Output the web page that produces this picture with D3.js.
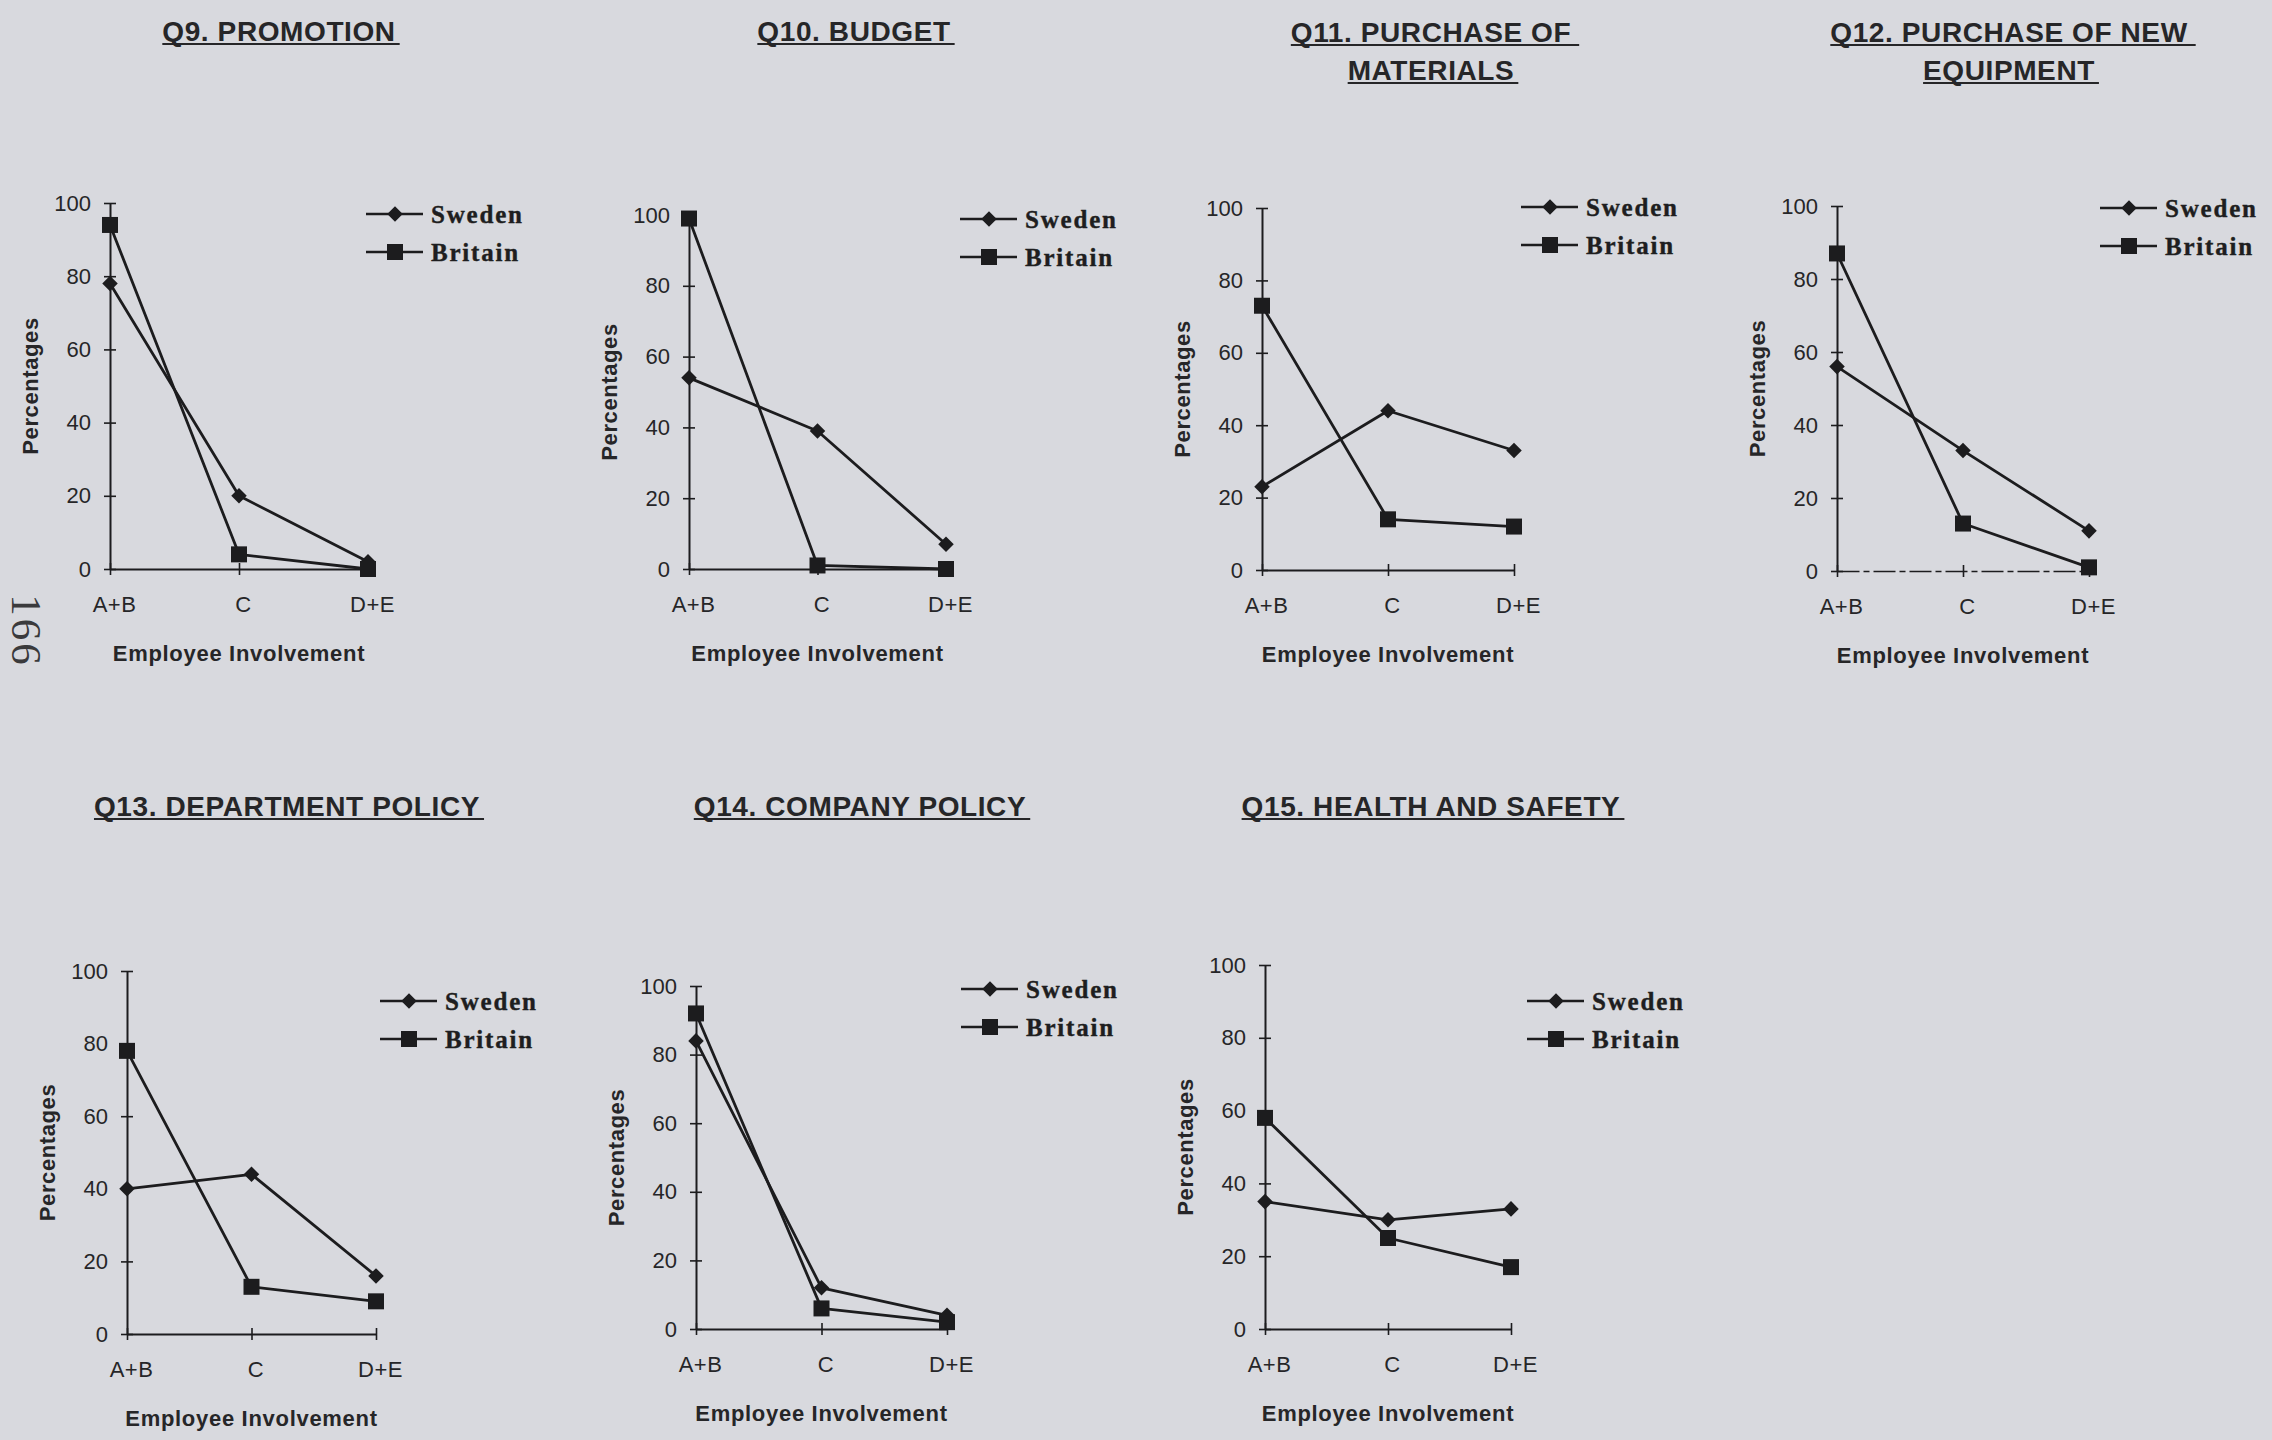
<!DOCTYPE html>
<html><head><meta charset="utf-8">
<script src="https://cdn.jsdelivr.net/npm/d3@7"></script>
<style>html,body{margin:0;padding:0;background:#d8d9de;}svg{display:block;}</style>
</head><body>
<svg id="chart" width="2272" height="1440"></svg>
<script>
// ---------------- data ----------------
const categories = ["A+B", "C", "D+E"];
const seriesNames = ["Sweden", "Britain"];
const yTicks = [0, 20, 40, 60, 80, 100];
const panelTitles = [
  ["Q9. PROMOTION"],
  ["Q10. BUDGET"],
  ["Q11. PURCHASE OF", "MATERIALS"],
  ["Q12. PURCHASE OF NEW", "EQUIPMENT"],
  ["Q13. DEPARTMENT POLICY"],
  ["Q14. COMPANY POLICY"],
  ["Q15. HEALTH AND SAFETY"]
];
const swedenValues  = [[78, 20, 2], [54, 39, 7], [23, 44, 33], [56, 33, 11], [40, 44, 16], [84, 12, 4], [35, 30, 33]];
const britainValues = [[94, 4, 0],  [99, 1, 0],  [73, 14, 12], [87, 13, 1],  [78, 13, 9],  [92, 6, 2],  [58, 25, 17]];
const xAxisTitle = "Employee Involvement";
const yAxisTitle = "Percentages";
const pageNumber = "166";

// ---------------- layout (positions only) ----------------
const layout = [
  {x0: 110,  x1: 368,  yT: 203, yB: 569,  tx: 279,  ty: 41,  lx: 366,  ly: 214},
  {x0: 689,  x1: 946,  yT: 215, yB: 569,  tx: 854,  ty: 41,  lx: 960,  ly: 219},
  {x0: 1262, x1: 1514, yT: 208, yB: 570,  tx: 1431, ty: 42,  lx: 1521, ly: 207},
  {x0: 1837, x1: 2089, yT: 206, yB: 571,  tx: 2009, ty: 42,  lx: 2100, ly: 208, dashed: true},
  {x0: 127,  x1: 376,  yT: 971, yB: 1334, tx: 287,  ty: 816, lx: 380,  ly: 1001},
  {x0: 696,  x1: 947,  yT: 986, yB: 1329, tx: 860,  ty: 816, lx: 961,  ly: 989},
  {x0: 1265, x1: 1511, yT: 965, yB: 1329, tx: 1431, ty: 816, lx: 1527, ly: 1001}
];

const INK = "#1c1c1e";
const TEXT = "#262628";
const SANS = "'Liberation Sans', Arial, sans-serif";
const SERIF = "'Liberation Serif', 'Times New Roman', serif";

const svg = d3.select("#chart");
svg.append("rect").attr("width", 2272).attr("height", 1440).attr("fill", "#d8d9de");

const diamond = d3.symbol(d3.symbolSquare, 121)();
const square = d3.symbol(d3.symbolSquare, 256)();

function drawMarker(g, name, x, y) {
  if (name === "Sweden") {
    g.append("path").attr("d", diamond).attr("fill", INK)
      .attr("transform", `translate(${x},${y}) rotate(45)`);
  } else {
    g.append("path").attr("d", square).attr("fill", INK)
      .attr("transform", `translate(${x},${y})`);
  }
}

panelTitles.forEach((title, i) => {
  const L = layout[i];
  const g = svg.append("g");
  const x = d3.scalePoint().domain(categories).range([L.x0, L.x1]);
  const y = d3.scaleLinear().domain([0, 100]).range([L.yB, L.yT]);

  // title (underlined)
  title.forEach((line, k) => {
    const t = g.append("text")
      .attr("x", L.tx).attr("y", L.ty + k * 38)
      .attr("text-anchor", "middle")
      .attr("font-family", SANS).attr("font-weight", "bold")
      .attr("font-size", 28).attr("letter-spacing", 0.6)
      .attr("fill", TEXT).text(line);
    const bb = t.node().getBBox();
    g.append("line")
      .attr("x1", bb.x).attr("x2", bb.x + bb.width + (k === 0 && title.length > 1 ? 8 : 4))
      .attr("y1", L.ty + k * 38 + 3).attr("y2", L.ty + k * 38 + 3)
      .attr("stroke", TEXT).attr("stroke-width", 2);
  });

  // y axis
  const ya = g.append("g").attr("transform", `translate(${L.x0},0)`)
    .call(d3.axisLeft(y).tickValues(yTicks).tickSizeInner(6).tickSizeOuter(0).tickPadding(13));
  ya.select(".domain").attr("stroke", INK).attr("stroke-width", 2);
  ya.selectAll(".tick line").attr("x1", 6).attr("stroke", INK).attr("stroke-width", 1.6);
  ya.selectAll(".tick text").attr("font-family", SANS).attr("font-size", 22).attr("fill", TEXT);

  // x axis
  const xa = g.append("g").attr("transform", `translate(0,${L.yB})`)
    .call(d3.axisBottom(x).tickSizeInner(6).tickSizeOuter(0).tickPadding(0));
  xa.select(".domain").attr("stroke", INK).attr("stroke-width", L.dashed ? 1.6 : 2)
    .attr("stroke-dasharray", L.dashed ? "22,4,6,4" : null);
  xa.selectAll(".tick line").attr("y1", -6).attr("stroke", INK).attr("stroke-width", 1.6);
  xa.selectAll(".tick text").attr("font-family", SANS).attr("font-size", 22)
    .attr("letter-spacing", 0.5).attr("fill", TEXT).attr("y", 43).attr("dy", null)
    .attr("dx", 4);

  // axis titles
  g.append("text")
    .attr("transform", `translate(${L.x0 - 72},${(L.yT + L.yB) / 2}) rotate(-90)`)
    .attr("text-anchor", "middle")
    .attr("font-family", SANS).attr("font-weight", "bold").attr("font-size", 22)
    .attr("letter-spacing", 0.6).attr("fill", TEXT).text(yAxisTitle);
  g.append("text")
    .attr("x", (L.x0 + L.x1) / 2).attr("y", L.yB + 92)
    .attr("text-anchor", "middle")
    .attr("font-family", SANS).attr("font-weight", "bold").attr("font-size", 22)
    .attr("letter-spacing", 0.7).attr("fill", TEXT).text(xAxisTitle);

  // series
  const series = [
    {name: seriesNames[0], values: swedenValues[i]},
    {name: seriesNames[1], values: britainValues[i]}
  ];
  const line = d3.line().x((d, j) => x(categories[j])).y(d => y(d));
  series.forEach(s => {
    g.append("path").attr("d", line(s.values))
      .attr("fill", "none").attr("stroke", INK).attr("stroke-width", 2.8)
      .attr("stroke-linejoin", "round");
  });
  series.forEach(s => {
    s.values.forEach((v, j) => drawMarker(g, s.name, x(categories[j]), y(v)));
  });

  // legend
  series.forEach((s, k) => {
    const ly = L.ly + k * 38;
    g.append("line").attr("x1", L.lx).attr("x2", L.lx + 57)
      .attr("y1", ly).attr("y2", ly).attr("stroke", INK).attr("stroke-width", 2.4);
    drawMarker(g, s.name, L.lx + 29, ly);
    g.append("text").attr("x", L.lx + 65).attr("y", ly).attr("dy", "0.35em")
      .attr("font-family", SERIF).attr("font-weight", "bold").attr("font-size", 25)
      .attr("letter-spacing", 1.8).attr("fill", "#1e1e20")
      .attr("stroke", "#1e1e20").attr("stroke-width", 0.4).text(s.name);
  });
});

// page number (rotated)
svg.append("text")
  .attr("transform", "translate(12,631) rotate(90)")
  .attr("text-anchor", "middle")
  .attr("font-family", SERIF).attr("font-size", 43).attr("letter-spacing", 3)
  .attr("fill", "#3a3a3c").text(pageNumber);
</script>
</body></html>
